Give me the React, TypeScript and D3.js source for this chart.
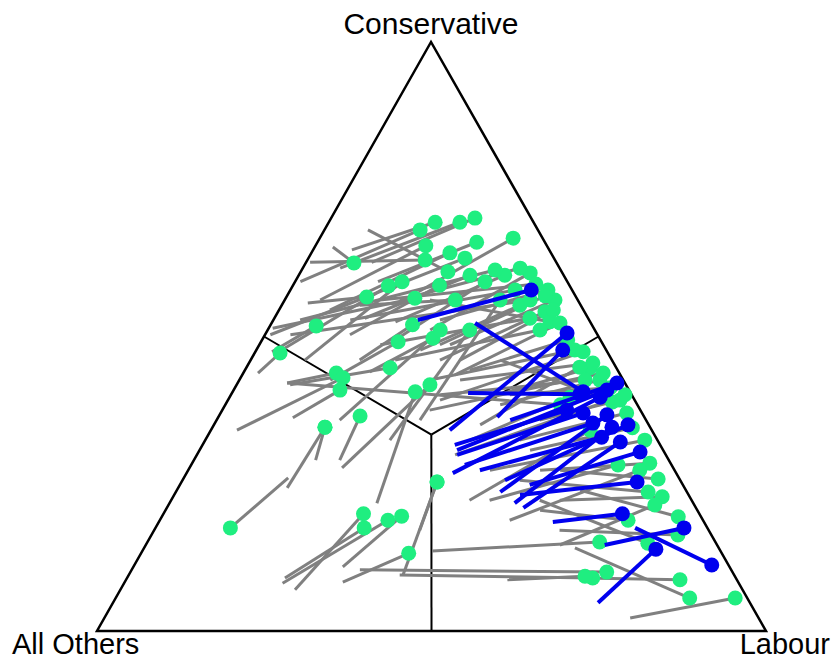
import { useEffect, useRef } from 'react';
import * as d3 from 'd3';

// shares in percent: [conDot, labDot, conEnd, labEnd]
const greyMoves: number[][] = [
  [70.1, 21.5, 62.6, 9.8], [69.4, 19.6, 61.6, 5.6], [69.4, 15.9, 64.7, 5.8], [68.1, 14.3, 59.3, 0.8],
  [65.4, 16.5, 56.2, 5.3], [66.7, 28.9, 57.6, 19.3], [66.0, 23.8, 59.3, 12.4], [64.2, 20.7, 54.5, 7.6],
  [62.5, 7.2, 65.2, 2.7], [60.8, 34.4, 51.1, 24.3], [60.4, 30.8, 52.5, 18.4], [60.4, 25.6, 53.1, 13.5],
  [59.3, 28.4, 49.4, 19.9], [58.7, 21.9, 50.3, 12.7], [58.6, 14.3, 47.7, 3.8], [59.3, 16.0, 46.0, 8.1],
  [56.7, 12.0, 55.7, 3.7], [51.8, 6.9, 47.4, 2.5], [56.2, 40.4, 48.6, 28.5], [54.2, 39.9, 46.0, 28.3],
  [55.3, 35.6, 47.7, 24.5], [52.0, 21.2, 46.0, 16.3], [49.7, 25.4, 44.0, 18.8], [49.1, 20.5, 42.6, 13.6],
  [61.0, 22.0, 68.1, 6.5], [56.2, 36.7, 50.3, 3.8], [52.5, 41.5, 56.2, 21.7], [52.3, 43.1, 43.5, 31.8],
  [57.9, 38.5, 52.8, 24.9], [56.5, 19.3, 51.4, 0.6],
  [61.6, 32.5, 56.2, 17.2], [58.9, 36.2, 56.2, 14.2], [56.9, 38.6, 48.6, 27.0], [54.5, 41.0, 46.0, 31.3],
  [49.4, 45.7, 44.3, 33.6], [47.7, 47.6, 42.6, 28.5], [44.7, 51.4, 39.2, 37.7], [42.6, 53.9, 38.4, 41.1],
  [41.3, 56.1, 40.1, 41.7], [39.2, 58.6, 35.8, 48.3], [34.5, 62.8, 30.7, 49.4], [28.5, 68.4, 27.3, 52.6],
  [22.8, 73.1, 22.2, 58.1], [51.1, 40.7, 46.0, 21.6], [53.1, 38.2, 48.6, 18.1], [57.9, 33.6, 52.8, 11.5],
  [61.3, 28.9, 52.8, 4.0], [63.3, 23.4, 50.3, 0.8], [56.2, 32.2, 35.8, 30.4], [34.1, 56.7, 22.2, 44.6],
  [27.3, 67.5, 18.8, 52.3], [21.4, 72.7, 14.6, 61.9], [51.1, 25.8, 35.8, 18.4], [51.1, 30.2, 32.4, 27.6],
  [56.2, 25.5, 55.3, 11.7], [63.0, 17.6, 62.6, 0.6],
  [47.4, 49.0, 39.2, 31.7], [45.5, 51.4, 42.6, 33.0], [43.8, 53.8, 37.5, 31.0], [44.8, 49.8, 35.0, 39.8],
  [39.7, 50.9, 32.4, 39.6], [40.1, 58.9, 29.9, 38.6], [42.6, 51.7, 40.1, 31.3], [38.9, 57.6, 46.0, 37.3],
  [37.0, 60.7, 32.4, 47.0], [32.4, 65.7, 27.3, 45.1], [28.2, 63.8, 22.2, 47.6], [25.8, 71.0, 27.3, 55.6],
  [23.6, 70.6, 25.6, 50.4], [19.4, 77.2, 23.9, 60.3], [16.3, 78.7, 17.1, 60.6], [18.8, 70.0, 20.5, 56.0],
  [14.9, 74.9, 22.2, 55.1], [8.7, 82.8, 9.0, 68.4], [5.6, 85.8, 14.1, 64.4], [5.6, 92.6, 2.2, 78.6],
  [9.0, 69.6, 9.5, 40.5], [10.0, 71.2, 10.4, 34.1], [15.1, 67.6, 13.6, 43.3], [9.3, 68.3, 8.7, 57.0],
  [38.4, 50.1, 42.1, 7.4],
  [47.2, 3.8, 43.8, 2.2], [43.8, 13.9, 42.1, 7.4], [43.0, 15.3, 34.1, 3.9], [40.9, 15.9, 36.2, 11.2],
  [34.6, 16.8, 29.0, 18.2], [36.5, 21.1, 29.0, 21.8], [44.7, 21.5, 41.8, 8.0], [40.6, 27.3, 21.7, 31.0],
  [17.5, 11.2, 26.0, 15.6], [34.6, 16.8, 24.3, 16.3], [19.9, 29.9, 7.0, 26.1], [17.5, 31.2, 9.0, 23.6],
  [18.8, 34.1, 8.1, 23.7], [19.5, 35.8, 10.9, 31.3], [13.2, 40.0, 8.3, 32.6], [25.3, 38.2, 17.1, 39.7],
  [25.3, 38.2, 9.5, 41.0], [41.8, 28.9, 27.7, 22.8],
];

const blueMoves: number[][] = [
  [57.9, 36.0, 52.8, 21.6], [50.6, 45.0, 34.1, 35.7], [47.7, 45.8, 36.3, 41.7], [40.6, 52.4, 52.3, 30.4],
  [40.2, 52.1, 40.4, 35.3], [42.1, 56.7, 35.8, 43.9], [40.9, 55.8, 30.7, 38.5], [39.7, 55.4, 26.8, 39.8],
  [37.0, 54.2, 29.9, 38.9], [36.7, 57.9, 23.6, 48.5], [35.3, 56.5, 28.2, 40.9], [34.6, 59.7, 21.7, 51.6],
  [35.0, 61.9, 25.6, 48.2], [32.1, 62.2, 20.9, 53.3], [32.9, 59.0, 27.3, 43.6], [30.4, 66.0, 24.8, 52.3],
  [25.3, 68.1, 23.1, 51.7], [19.9, 68.6, 18.5, 58.9], [17.5, 79.0, 14.6, 68.6], [13.9, 76.6, 4.8, 72.5],
  [11.2, 86.3, 17.5, 71.7], [37.5, 51.5, 31.6, 37.7],
];

const vertexLabels = ['Conservative', 'All Others', 'Labour'];

const width = 833;
const height = 662;

const App = () => {
  const ref = useRef<SVGSVGElement>(null);

  useEffect(() => {
    const svg = d3.select(ref.current);
    svg.selectAll('*').remove();

    const top = { x: 431, y: 42 };
    const left = { x: 97, y: 631 };
    const right = { x: 766, y: 631 };

    // con share -> vertical position, lab share -> shift toward Labour corner
    const yCon = d3.scaleLinear().domain([0, 100]).range([left.y, top.y]);
    const xLab = d3.scaleLinear().domain([0, 100]).range([0, right.x - left.x]);
    const xCon = d3.scaleLinear().domain([0, 100]).range([0, top.x - left.x]);
    const px = (c: number, l: number) => left.x + xCon(c) + xLab(l);
    const py = (c: number) => yCon(c);

    // triangle
    svg.append('path')
      .attr('d', d3.line()([[top.x, top.y], [left.x, left.y], [right.x, right.y]]) + 'Z')
      .attr('fill', 'none')
      .attr('stroke', '#000')
      .attr('stroke-width', 2.5);

    // dividing lines from centre to edge midpoints
    const third = 100 / 3;
    const mids = [[50, 50], [50, 0], [0, 50]];
    svg.selectAll('line.div')
      .data(mids)
      .enter()
      .append('line')
      .attr('x1', px(third, third))
      .attr('y1', py(third))
      .attr('x2', d => px(d[0], d[1]))
      .attr('y2', d => py(d[0]))
      .attr('stroke', '#000')
      .attr('stroke-width', 2);

    const drawMoves = (data: number[][], lineColor: string, dotColor: string, lw: number) => {
      const g = svg.append('g');
      g.selectAll('line')
        .data(data)
        .enter()
        .append('line')
        .attr('x1', d => px(d[0], d[1]))
        .attr('y1', d => py(d[0]))
        .attr('x2', d => px(d[2], d[3]))
        .attr('y2', d => py(d[2]))
        .attr('stroke', lineColor)
        .attr('stroke-width', lw);
      g.selectAll('circle')
        .data(data)
        .enter()
        .append('circle')
        .attr('cx', d => px(d[0], d[1]))
        .attr('cy', d => py(d[0]))
        .attr('r', 7.5)
        .attr('fill', dotColor);
    };

    drawMoves(greyMoves, '#808080', '#1fee80', 3);
    drawMoves(blueMoves, '#0000ee', '#0000ee', 4);

    const font = "'Liberation Sans', Arial, sans-serif";
    svg.append('text')
      .attr('x', top.x)
      .attr('y', 34)
      .attr('text-anchor', 'middle')
      .attr('font-family', font)
      .attr('font-size', 30)
      .text(vertexLabels[0]);
    svg.append('text')
      .attr('x', 12)
      .attr('y', 654)
      .attr('font-family', font)
      .attr('font-size', 29)
      .text(vertexLabels[1]);
    svg.append('text')
      .attr('x', 830)
      .attr('y', 654)
      .attr('text-anchor', 'end')
      .attr('font-family', font)
      .attr('font-size', 29)
      .text(vertexLabels[2]);
  }, []);

  return (
    <svg
      ref={ref}
      width={width}
      height={height}
      style={{ position: 'absolute', left: 0, top: 0, background: '#fff' }}
    />
  );
};

export default App;
